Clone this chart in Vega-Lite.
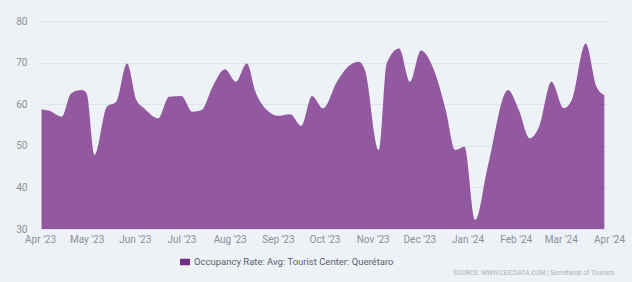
{
  "$schema": "https://vega.github.io/schema/vega-lite/v6.json",
  "width": 569,
  "height": 208,
  "autosize": {"type": "none"},
  "padding": {"left": 40, "top": 21, "right": 23, "bottom": 53},
  "background": "#eef2f6",
  "config": {
    "font": "Roboto",
    "view": {"stroke": null},
    "axis": {"labelFont": "Roboto", "labelColor": "#8a9099", "labelFontSize": 10, "domain": false, "ticks": false}
  },
  "title": {
    "text": "SOURCE: WWW.CEICDATA.COM | Secretariat of Tourism",
    "orient": "bottom",
    "anchor": "end",
    "fontSize": 6.5,
    "fontWeight": "normal",
    "color": "#a9b0b9",
    "offset": 3,
    "dx": -10
  },
  "data": {
    "values": [
      {"date": "2023-04-02", "value": 58.8},
      {"date": "2023-04-07", "value": 58.4},
      {"date": "2023-04-15", "value": 57.0},
      {"date": "2023-04-21", "value": 62.6},
      {"date": "2023-04-28", "value": 63.4},
      {"date": "2023-05-01", "value": 62.6},
      {"date": "2023-05-06", "value": 47.8},
      {"date": "2023-05-14", "value": 59.4},
      {"date": "2023-05-20", "value": 60.6},
      {"date": "2023-05-27", "value": 69.8},
      {"date": "2023-06-02", "value": 61.0},
      {"date": "2023-06-07", "value": 59.0},
      {"date": "2023-06-16", "value": 56.6},
      {"date": "2023-06-23", "value": 61.8},
      {"date": "2023-07-01", "value": 62.0},
      {"date": "2023-07-08", "value": 58.2},
      {"date": "2023-07-14", "value": 58.6},
      {"date": "2023-07-21", "value": 64.2},
      {"date": "2023-07-29", "value": 68.4},
      {"date": "2023-08-05", "value": 65.4},
      {"date": "2023-08-12", "value": 69.8},
      {"date": "2023-08-18", "value": 62.6},
      {"date": "2023-08-25", "value": 58.6},
      {"date": "2023-09-01", "value": 57.2},
      {"date": "2023-09-09", "value": 57.6},
      {"date": "2023-09-16", "value": 54.8},
      {"date": "2023-09-23", "value": 62.0},
      {"date": "2023-09-30", "value": 59.0},
      {"date": "2023-10-09", "value": 65.4},
      {"date": "2023-10-15", "value": 68.6},
      {"date": "2023-10-23", "value": 70.2},
      {"date": "2023-10-27", "value": 68.2},
      {"date": "2023-11-05", "value": 49.0},
      {"date": "2023-11-10", "value": 69.8},
      {"date": "2023-11-18", "value": 73.4},
      {"date": "2023-11-25", "value": 65.4},
      {"date": "2023-12-02", "value": 72.9},
      {"date": "2023-12-10", "value": 68.6},
      {"date": "2023-12-18", "value": 58.6},
      {"date": "2023-12-24", "value": 49.0},
      {"date": "2023-12-30", "value": 49.8},
      {"date": "2024-01-06", "value": 32.2},
      {"date": "2024-01-14", "value": 45.0},
      {"date": "2024-01-27", "value": 63.4},
      {"date": "2024-02-03", "value": 58.6},
      {"date": "2024-02-10", "value": 51.8},
      {"date": "2024-02-16", "value": 54.6},
      {"date": "2024-02-24", "value": 65.4},
      {"date": "2024-03-03", "value": 59.0},
      {"date": "2024-03-08", "value": 61.0},
      {"date": "2024-03-17", "value": 74.6},
      {"date": "2024-03-24", "value": 64.2},
      {"date": "2024-03-29", "value": 62.2}
    ]
  },
  "mark": {"type": "area", "interpolate": "monotone", "opacity": 0.78, "clip": true},
  "encoding": {
    "x": {
      "field": "date",
      "type": "temporal",
      "scale": {"domain": ["2023-04-01", "2024-04-01"], "nice": false},
      "axis": {"title": null, "format": "%b '%y", "tickCount": {"interval": "month", "step": 1}, "grid": false, "labelPadding": 5, "labelOverlap": false, "labelFlush": false}
    },
    "y": {
      "field": "value",
      "type": "quantitative",
      "scale": {"domain": [30, 80], "nice": false, "zero": false},
      "axis": {"title": null, "values": [30, 40, 50, 60, 70, 80], "grid": true, "gridColor": "#dfe4ea", "gridWidth": 1, "labelPadding": 13}
    },
    "color": {
      "datum": "Occupancy Rate: Avg: Tourist Center: Querétaro",
      "type": "nominal",
      "scale": {"range": ["#792d88"]},
      "legend": {
        "title": null,
        "orient": "none",
        "legendX": 140,
        "legendY": 236,
        "symbolType": "M-1,-0.65H1V0.65H-1Z",
        "symbolSize": 100,
        "symbolOpacity": 1,
        "symbolStrokeWidth": 0,
        "labelFontSize": 9.5,
        "labelLimit": 0,
        "labelColor": "#5b6170",
        "labelFont": "Roboto"
      }
    }
  }
}
